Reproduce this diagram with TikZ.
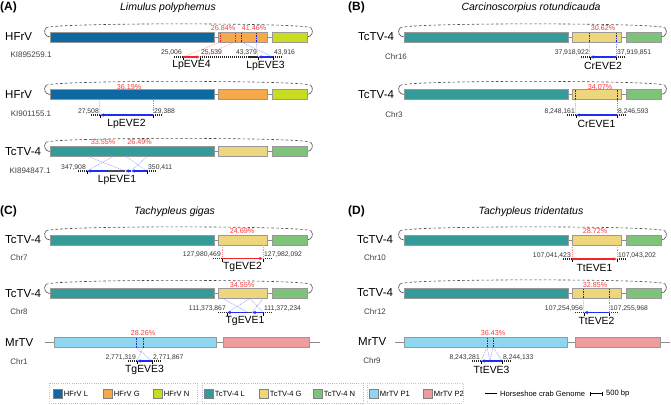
\documentclass[tikz,border=0pt]{standalone}
\usepackage{fontspec}
\setmainfont{Liberation Sans}
\usepackage{tikz}
\usetikzlibrary{positioning}
\usetikzlibrary{calc}
\usetikzlibrary{arrows.meta}
\definecolor{hfrvL}{HTML}{0E68A2}
\definecolor{hfrvG}{HTML}{F5A94A}
\definecolor{hfrvN}{HTML}{C9DC22}
\definecolor{tctvL}{HTML}{359B99}
\definecolor{tctvG}{HTML}{EDD67C}
\definecolor{tctvN}{HTML}{7FC27A}
\definecolor{mrtvA}{HTML}{8FD6F0}
\definecolor{mrtvB}{HTML}{EE9C9E}
\definecolor{pctred}{HTML}{FF3B3B}
\definecolor{hitblue}{HTML}{1E2EF0}
\definecolor{hitred}{HTML}{F02626}
\definecolor{boxcyan}{HTML}{8ECFE0}
\definecolor{boxlav}{HTML}{B4B4D6}
\definecolor{boxgreen}{HTML}{A6D8C6}
\tikzset{>=latex}
\tikzset{
  seg/.style={draw=black!40, line width=0.6pt},
  backbone/.style={draw=black!45, line width=0.7pt},
  arcline/.style={black!70, line width=0.6pt, dash pattern=on 2.6pt off 2.2pt},
  arcend/.style={black!70, line width=0.6pt},
  flank/.style={black!85, line width=1.2pt, dash pattern=on 1pt off 1pt},
  tickmark/.style={black, line width=0.6pt},
  evearrow/.style={line width=1.3pt, -{Latex[length=3.6pt,width=3.6pt]}},
  hitb/.style={hitblue!80!black, line width=0.8pt, dash pattern=on 1.6pt off 1pt},
  hitr/.style={hitred, line width=0.8pt, dash pattern=on 1.6pt off 1pt},
  mapb/.style={blue!45, line width=0.45pt, dash pattern=on 1pt off 0.8pt},
  mapr/.style={red!45, line width=0.45pt, dash pattern=on 1pt off 0.8pt},
  posnum/.style={font=\fontsize{6.8}{7}\selectfont, text=black!80, inner xsep=1pt, inner ysep=0pt},
  evename/.style={font=\fontsize{10.4}{11}\selectfont, inner sep=0pt},
  pct/.style={font=\fontsize{7.2}{8}\selectfont, text=pctred, inner sep=0pt},
  rowname/.style={font=\fontsize{11.5}{12}\selectfont, anchor=west, inner sep=0pt},
  chrname/.style={font=\fontsize{8}{9}\selectfont, text=black!75, inner sep=0pt},
  species/.style={font=\itshape\fontsize{10.5}{12}\selectfont, inner sep=0pt},
  panel/.style={font=\bfseries\fontsize{12}{13}\selectfont, anchor=west, inner sep=0pt},
  key/.style={draw=black!50, line width=0.5pt, minimum size=9pt, inner sep=0pt},
  keytext/.style={font=\fontsize{7.6}{8}\selectfont, inner sep=0pt},
  keybox/.style={line width=0.8pt, dash pattern=on 1pt off 1.2pt}
}

% three-part virus genome with its dashed loop
\newcommand{\segrow}[5]{%
  \begin{scope}[shift={(#1,#2)}]
    \draw[arcend] (0,0) .. controls (-5,0) and (-7,-6) .. (-4,-9);
    \draw[arcend] (257,0) .. controls (262,0) and (264,-6) .. (261,-9);
    \draw[arcline] (-4,-9) .. controls (-2,-14.5) and (259,-14.5) .. (261,-9);
    \draw[backbone] (0,0) -- (257,0);
    \draw[seg,fill=#3] (0,-5) rectangle (164,5);
    \draw[seg,fill=#4] (168,-5) rectangle (217,5);
    \draw[seg,fill=#5] (222,-5) rectangle (257,5);
  \end{scope}}

% EVE site on the crab genome: name, left x, right x, y, numbers, label
\newcommand{\evesite}[7]{%
  \coordinate (#1l) at (#2,#4);
  \coordinate (#1r) at (#3,#4);
  \draw[flank] (#1l) -- ++(-9,0);
  \draw[flank] (#1r) -- ++(9,0);
  \draw[tickmark] (#1l) -- ++(0,3);
  \draw[tickmark] (#1r) -- ++(0,3);
  \node[posnum,anchor=base east] (#1ln) at ($(#1l)+(0,-2)$) {#5};
  \node[posnum,anchor=base west] (#1rn) at ($(#1r)+(0,-2)$) {#6};
  \node[evename] (#1name) at ($(#1l)!0.5!(#1r)+(0,8.5)$) {#7};}

\begin{document}
\begin{tikzpicture}[x=1pt,y=-1pt]
\useasboundingbox (0,0) rectangle (671,404);

% ---------------- (A) Limulus polyphemus
\node[panel] (labA) at (0,7) {(A)};
\node[species] (spA) at (168,8) {Limulus polyphemus};

% HFrV / KI895259.1
\segrow{50}{37}{hfrvL}{hfrvG}{hfrvN}
\node[rowname] (rowAa) at (5,37) {HFrV};
\node[chrname] (chrAa) at (31,55) {KI895259.1};
\node[pct] (pctAa) at (223,28.5) {26.84\%};
\node[pct] (pctAb) at (254,28.5) {41.46\%};
\evesite{eveLpD}{183}{200}{57}{25,006}{25,539}{LpEVE4}
\evesite{eveLpC}{258}{273}{57}{43,379}{43,916}{LpEVE3}
\draw[flank] (eveLpDr) -- (eveLpCl);
\coordinate (hitAa) at (220,42);
\coordinate (hitAb) at (235,42);
\coordinate (hitAc) at (241,42);
\coordinate (hitAd) at (256,42);
\foreach \h in {hitAa,hitAb} \draw[hitr] (\h) -- ++(0,-10);
\foreach \h in {hitAc,hitAd} \draw[hitb] (\h) -- ++(0,-10);
\draw[mapr] (hitAa) -- (eveLpDl);
\draw[mapr] (hitAb) -- (eveLpDr);
\draw[mapb] (hitAc) -- (eveLpCr);
\draw[mapb] (hitAd) -- (eveLpCl);
\draw[evearrow,hitred] (eveLpDl) -- (eveLpDr);
\draw[evearrow,hitblue] (eveLpCr) -- (eveLpCl);

% HFrV / KI901155.1
\segrow{50}{94.5}{hfrvL}{hfrvG}{hfrvN}
\node[rowname] (rowAb) at (5,94.5) {HFrV};
\node[chrname] (chrAb) at (31,114) {KI901155.1};
\node[pct] (pctAc) at (129,87.5) {36.19\%};
\evesite{eveLpB}{100}{153}{115}{27,508}{29,388}{LpEVE2}
\coordinate (hitAe) at (99,99.5);
\coordinate (hitAf) at (153,99.5);
\draw[mapb] (hitAe) -- (eveLpBl);
\draw[mapb] (hitAf) -- (eveLpBr);
\draw[evearrow,hitblue] (eveLpBr) -- (eveLpBl);

% TcTV-4 / KI894847.1
\segrow{50}{151.5}{tctvL}{tctvG}{tctvN}
\node[rowname] (rowAc) at (5,151.5) {TcTV-4};
\node[chrname] (chrAc) at (30,171) {KI894847.1};
\node[pct] (pctAd) at (103,142.5) {33.55\%};
\node[pct] (pctAe) at (139.5,142.5) {26.49\%};
\evesite{eveLpA}{87}{147}{171}{347,908}{350,411}{LpEVE1}
\coordinate (splitAa) at (108,171);
\coordinate (splitAb) at (125,171);
\coordinate (splitAc) at (131,171);
\coordinate (hitAg) at (88,156.5);
\coordinate (hitAh) at (113,156.5);
\coordinate (hitAi) at (126,156.5);
\coordinate (hitAj) at (147,156.5);
\draw[mapb] (hitAg) -- (splitAb);
\draw[mapb] (hitAh) -- (eveLpAl);
\draw[mapb] (hitAi) -- (eveLpAr);
\draw[mapb] (hitAj) -- (splitAc);
\draw[line width=1.3pt,black!70] (splitAa) -- (splitAb);
\draw[evearrow,hitblue] (splitAa) -- (eveLpAl);
\draw[evearrow,hitblue] (splitAc) -- (splitAb);
\draw[evearrow,hitblue] (eveLpAr) -- (splitAc);

% ---------------- (B) Carcinoscorpius rotundicauda
\node[panel] (labB) at (348,7) {(B)};
\node[species] (spB) at (531,8) {Carcinoscorpius rotundicauda};

% TcTV-4 / Chr16
\segrow{404}{37}{tctvL}{tctvG}{tctvN}
\node[rowname] (rowBa) at (358,37) {TcTV-4};
\node[chrname] (chrBa) at (396,57) {Chr16};
\node[pct] (pctBa) at (603,28.5) {30.62\%};
\evesite{eveCrB}{590}{616}{57}{37,918,922}{37,919,851}{CrEVE2}
\coordinate (hitBa) at (589,42);
\coordinate (hitBb) at (616,42);
\foreach \h in {hitBa,hitBb} \draw[hitb] (\h) -- ++(0,-10);
\draw[mapb] (hitBa) -- (eveCrBl);
\draw[mapb] (hitBb) -- (eveCrBr);
\draw[evearrow,hitblue] (eveCrBr) -- (eveCrBl);

% TcTV-4 / Chr3
\segrow{404}{94.5}{tctvL}{tctvG}{tctvN}
\node[rowname] (rowBb) at (358,94.5) {TcTV-4};
\node[chrname] (chrBb) at (394,115) {Chr3};
\node[pct] (pctBb) at (600,87.5) {34.07\%};
\evesite{eveCrA}{576}{617}{115}{8,248,161}{8,246,593}{CrEVE1}
\coordinate (hitBc) at (575,99.5);
\coordinate (hitBd) at (617,99.5);
\foreach \h in {hitBc,hitBd} \draw[hitb] (\h) -- ++(0,-10);
\draw[mapb] (hitBc) -- (eveCrAl);
\draw[mapb] (hitBd) -- (eveCrAr);
\draw[evearrow,hitblue] (eveCrAr) -- (eveCrAl);

% ---------------- (C) Tachypleus gigas
\node[panel] (labC) at (0,211) {(C)};
\node[species] (spC) at (174.5,212) {Tachypleus gigas};

% TcTV-4 / Chr7
\segrow{50}{240}{tctvL}{tctvG}{tctvN}
\node[rowname] (rowCa) at (5,240) {TcTV-4};
\node[chrname] (chrCa) at (19,257.5) {Chr7};
\node[pct] (pctCa) at (242,231.5) {24.69\%};
\evesite{eveTgB}{222}{263}{258.5}{127,980,469}{127,982,092}{TgEVE2}
\coordinate (hitCa) at (222,245);
\coordinate (hitCb) at (263,245);
\draw[mapr] (hitCa) -- (eveTgBl);
\draw[mapr] (hitCb) -- (eveTgBr);
\draw[evearrow,hitred] (eveTgBl) -- (eveTgBr);

% TcTV-4 / Chr8
\segrow{50}{293.5}{tctvL}{tctvG}{tctvN}
\node[rowname] (rowCb) at (5,293.5) {TcTV-4};
\node[chrname] (chrCb) at (19,312) {Chr8};
\node[pct] (pctCb) at (242,285) {34.55\%};
\evesite{eveTgA}{227}{263}{312.5}{111,373,867}{111,372,234}{TgEVE1}
\coordinate (splitCa) at (248,312.5);
\coordinate (splitCb) at (252,312.5);
\coordinate (hitCc) at (223,298.5);
\coordinate (hitCd) at (250,298.5);
\coordinate (hitCe) at (263,298.5);
\draw[mapb] (hitCc) -- (splitCa);
\draw[mapb] (hitCd) -- (eveTgAl);
\draw[mapb] (hitCd) -- (eveTgAr);
\draw[mapb] (hitCe) -- (splitCb);
\draw[line width=1.3pt,black!70] (splitCa) -- (splitCb);
\draw[evearrow,hitblue] (splitCa) -- (eveTgAl);
\draw[evearrow,hitblue] (eveTgAr) -- (splitCb);

% MrTV / Chr1
\draw[backbone] (45,342.5) -- (320,342.5);
\draw[seg,fill=mrtvA] (54,337.5) rectangle (216,347.5);
\draw[seg,fill=mrtvB] (223,337.5) rectangle (309,347.5);
\node[rowname] (rowCc) at (5,342.5) {MrTV};
\node[chrname] (chrCc) at (19,361.5) {Chr1};
\node[pct] (pctCc) at (143,333) {28.26\%};
\evesite{eveTgC}{137}{152}{361}{2,771,319}{2,771,867}{TgEVE3}
\coordinate (hitCf) at (136,347.5);
\coordinate (hitCg) at (143,347.5);
\foreach \h in {hitCf,hitCg} \draw[hitb] (\h) -- ++(0,-10);
\draw[mapb] (hitCf) -- (eveTgCr);
\draw[mapb] (hitCg) -- (eveTgCl);
\draw[evearrow,hitblue] (eveTgCr) -- (eveTgCl);

% ---------------- (D) Tachypleus tridentatus
\node[panel] (labD) at (348,211) {(D)};
\node[species] (spD) at (531,212) {Tachypleus tridentatus};

% TcTV-4 / Chr10
\segrow{404}{240}{tctvL}{tctvG}{tctvN}
\node[rowname] (rowDa) at (357,240) {TcTV-4};
\node[chrname] (chrDa) at (375,257.5) {Chr10};
\node[pct] (pctDa) at (595,231.5) {28.72\%};
\evesite{eveTtA}{572}{617}{259}{107,041,423}{107,043,202}{TtEVE1}
\coordinate (hitDa) at (572,245);
\coordinate (hitDb) at (617,245);
\draw[mapr] (hitDa) -- (eveTtAl);
\draw[mapr] (hitDb) -- (eveTtAr);
\draw[evearrow,hitred] (eveTtAl) -- (eveTtAr);

% TcTV-4 / Chr12
\segrow{404}{293}{tctvL}{tctvG}{tctvN}
\node[rowname] (rowDb) at (357,293) {TcTV-4};
\node[chrname] (chrDb) at (375,312) {Chr12};
\node[pct] (pctDb) at (595,285) {32.85\%};
\evesite{eveTtB}{584}{609}{312.5}{107,254,956}{107,255,968}{TtEVE2}
\coordinate (hitDc) at (583,298);
\coordinate (hitDd) at (609,298);
\foreach \h in {hitDc,hitDd} \draw[hitb] (\h) -- ++(0,-10);
\draw[mapb] (hitDc) -- (eveTtBl);
\draw[mapb] (hitDd) -- (eveTtBr);
\draw[evearrow,hitblue] (eveTtBr) -- (eveTtBl);

% MrTV / Chr9
\draw[backbone] (395,342) -- (670,342);
\draw[seg,fill=mrtvA] (404,337) rectangle (567,347);
\draw[seg,fill=mrtvB] (575,337) rectangle (660,347);
\node[rowname] (rowDc) at (358,342) {MrTV};
\node[chrname] (chrDc) at (372,361) {Chr9};
\node[pct] (pctDc) at (493,333) {36.43\%};
\evesite{eveTtC}{481}{502}{361}{8,243,281}{8,244,133}{TtEVE3}
\coordinate (splitDa) at (490,361);
\coordinate (hitDe) at (487,347);
\coordinate (hitDf) at (493,347);
\foreach \h in {hitDe,hitDf} \draw[hitb] (\h) -- ++(0,-10);
\draw[mapb] (hitDe) -- (eveTtCl);
\draw[mapb] (hitDe) -- (splitDa);
\draw[mapb] (hitDf) -- (splitDa);
\draw[mapb] (hitDf) -- (eveTtCr);
\draw[evearrow,hitblue] (eveTtCr) -- (eveTtCl);

% ---------------- legend
\draw[keybox,draw=boxcyan] (49,383) rectangle (197,403);
\draw[keybox,draw=boxlav] (202,383) rectangle (363,403);
\draw[keybox,draw=boxgreen] (367,383) rectangle (463,403);
\node[key,fill=hfrvL] (keyHL) at (57.5,393.5) {};
\node[keytext,right=1.5pt of keyHL] (keyHLt) {HFrV L};
\node[key,fill=hfrvG] (keyHG) at (107.5,393.5) {};
\node[keytext,right=1.5pt of keyHG] (keyHGt) {HFrV G};
\node[key,fill=hfrvN] (keyHN) at (157.5,393.5) {};
\node[keytext,right=1.5pt of keyHN] (keyHNt) {HFrV N};
\node[key,fill=tctvL] (keyTL) at (208.5,393.5) {};
\node[keytext,right=1.5pt of keyTL] (keyTLt) {TcTV-4 L};
\node[key,fill=tctvG] (keyTG) at (263.5,393.5) {};
\node[keytext,right=1.5pt of keyTG] (keyTGt) {TcTV-4 G};
\node[key,fill=tctvN] (keyTN) at (317.5,393.5) {};
\node[keytext,right=1.5pt of keyTN] (keyTNt) {TcTV-4 N};
\node[key,fill=mrtvA] (keyMA) at (373.5,393.5) {};
\node[keytext,right=1.5pt of keyMA] (keyMAt) {MrTV P1};
\node[key,fill=mrtvB] (keyMB) at (427.5,393.5) {};
\node[keytext,right=1.5pt of keyMB] (keyMBt) {MrTV P2};
\coordinate (keyLa) at (485,393.5);
\coordinate (keyLb) at (497,393.5);
\draw[line width=0.9pt] (keyLa) -- (keyLb);
\node[keytext,right=3pt of keyLb] (keyLt) {Horseshoe crab Genome};
\coordinate (keySa) at (590,393.5);
\coordinate (keySb) at (603,393.5);
\draw[line width=0.9pt,{Bar[width=4pt]}-{Bar[width=4pt]}] (keySa) -- (keySb);
\node[keytext,right=3pt of keySb] (keySt) {500 bp};

\end{tikzpicture}
\end{document}
